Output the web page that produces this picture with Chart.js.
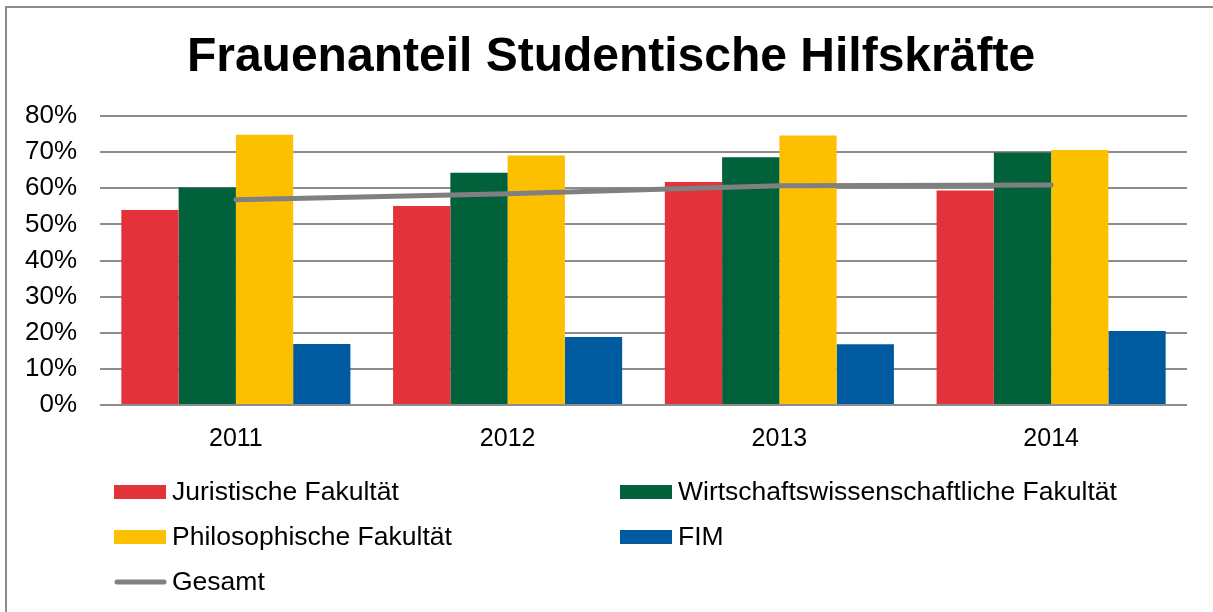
<!DOCTYPE html>
<html>
<head>
<meta charset="utf-8">
<script src="https://cdn.jsdelivr.net/npm/chart.js@4"></script>
<style>
  body { margin: 0; background: #fff; overflow: hidden; }
  #wrap { position: relative; width: 1213px; height: 612px; }
  #frame { position: absolute; left: 5px; top: 6px; width: 1240px; height: 650px; border: 2px solid #8c8c8c; }
  canvas { position: absolute; left: 0; top: 0; }
</style>
</head>
<body>
<div id="wrap">
  <div id="frame"></div>
  <canvas id="chart" width="1213" height="612"></canvas>
</div>
<script>
const years = ["2011", "2012", "2013", "2014"];
const juristisch = [54.0, 55.1, 61.7, 59.4];
const wiwi = [60.2, 64.3, 68.6, 69.9];
const philosophisch = [74.8, 69.1, 74.6, 70.6];
const fim = [16.9, 18.8, 16.8, 20.5];
const gesamt = [56.8, 58.5, 60.7, 60.9];
const yTicks = [0, 10, 20, 30, 40, 50, 60, 70, 80];

const FONT = "Arial, 'Liberation Sans', sans-serif";

// title + two-column legend drawn by hand, Excel style
const extras = {
  id: "extras",
  afterDraw(chart) {
    const c = chart.ctx;
    c.save();
    c.fillStyle = "#000";
    c.font = "bold 48px " + FONT;
    c.textAlign = "center";
    c.textBaseline = "middle";
    c.fillText("Frauenanteil Studentische Hilfskräfte", 611, 58);

    const slots = [
      { x: 114, y: 492 }, { x: 620, y: 492 },
      { x: 114, y: 537 }, { x: 620, y: 537 },
      { x: 114, y: 582 }
    ];
    c.font = "26.5px " + FONT;
    c.textAlign = "left";
    chart.data.datasets.forEach((ds, i) => {
      const s = slots[i];
      if (ds.type === "line") {
        c.strokeStyle = ds.borderColor;
        c.lineWidth = 5;
        c.lineCap = "round";
        c.beginPath();
        c.moveTo(s.x + 3, s.y);
        c.lineTo(s.x + 50, s.y);
        c.stroke();
      } else {
        c.fillStyle = ds.backgroundColor;
        c.fillRect(s.x, s.y - 7, 52, 14);
      }
      c.fillStyle = "#000";
      c.fillText(ds.label, s.x + 58, s.y + 1);
    });
    c.restore();
  }
};

new Chart(document.getElementById("chart"), {
  data: {
    labels: years,
    datasets: [
      { type: "bar", label: "Juristische Fakultät", data: juristisch, backgroundColor: "#E3323A", order: 1 },
      { type: "bar", label: "Wirtschaftswissenschaftliche Fakultät", data: wiwi, backgroundColor: "#00613A", order: 1 },
      { type: "bar", label: "Philosophische Fakultät", data: philosophisch, backgroundColor: "#FDC000", order: 1 },
      { type: "bar", label: "FIM", data: fim, backgroundColor: "#005AA0", order: 1 },
      { type: "line", label: "Gesamt", data: gesamt, borderColor: "#808080", borderWidth: 5,
        borderCapStyle: "round", pointRadius: 0, tension: 0, order: 0 }
    ]
  },
  options: {
    responsive: false,
    animation: false,
    devicePixelRatio: 1,
    layout: { padding: { top: 116, right: 26, left: 0, bottom: 0 } },
    datasets: { bar: { categoryPercentage: 0.843, barPercentage: 1 } },
    plugins: { legend: { display: false }, title: { display: false }, tooltip: { enabled: false } },
    scales: {
      x: {
        grid: { display: false },
        border: { display: false },
        ticks: { color: "#000", font: { family: FONT, size: 25 }, padding: 11 },
        afterFit: (axis) => { axis.height = 207; }
      },
      y: {
        min: 0,
        max: 80,
        afterBuildTicks: (axis) => { axis.ticks = yTicks.map(v => ({ value: v })); },
        grid: { color: "#8c8c8c", lineWidth: 2, drawTicks: false },
        border: { display: false },
        ticks: { color: "#000", font: { family: FONT, size: 26 }, padding: 23, callback: v => v + "%" },
        afterFit: (axis) => { axis.width = 100; }
      }
    }
  },
  plugins: [extras]
});
</script>
</body>
</html>
